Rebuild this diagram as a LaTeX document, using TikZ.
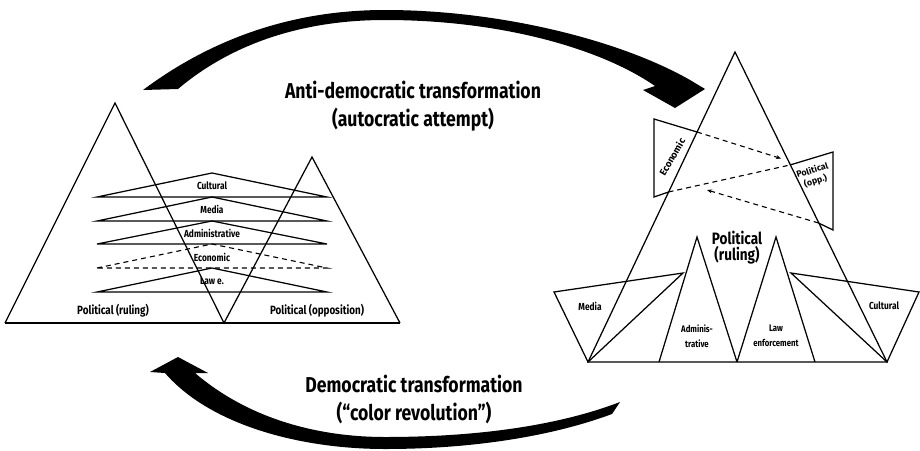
\documentclass[tikz,border=0pt]{standalone}
\usepackage{fontspec}
\setmainfont{Fira Sans}[FakeStretch=0.82]
\newfontfamily\rotf{Fira Sans}
\usetikzlibrary{arrows.meta}
\tikzset{
  ln/.style={line width=1.25pt, line join=miter},
  dsh/.style={line width=1.1pt, dash pattern=on 5pt off 4pt},
  lbl/.style={font=\bfseries\fontsize{10.2}{11}\selectfont, inner sep=0pt, align=center},
  mid/.style={font=\bfseries\fontsize{12}{13}\selectfont, inner sep=0pt, align=center},
  rlb/.style={font=\bfseries\fontsize{9.5}{15}\selectfont, inner sep=0pt, align=center},
  rot/.style={font=\rotf\bfseries\fontsize{8.8}{11}\selectfont, inner sep=0pt, align=center},
  big/.style={font=\bfseries\fontsize{21.5}{28}\selectfont, inner sep=0pt, align=center},
  bigarrow/.style={fill=black, draw=none},
  tipsm/.style={-{Stealth[length=5pt,width=4pt]}}
}
\begin{document}
\begin{tikzpicture}[x=1pt,y=-1pt]
\useasboundingbox (0,0) rectangle (920,450);

% ---------- left diagram ----------
\coordinate (LA) at (5,323);
\coordinate (LT) at (115,103);
\coordinate (LM) at (224,323);
\coordinate (RT) at (312,157);
\coordinate (RB) at (400,323);
\draw[ln] (LA) -- (RB);
\draw[ln] (LA) -- (LT) -- (LM) -- (RT) -- (RB);

% layers
\foreach \n/\a/\b in {cul/173/197, med/197/221, adm/221/244, law/268/292}{
  \draw[ln] (97,\b) coordinate (\n L) -- (212,\a) coordinate (\n T) -- (327,\b) coordinate (\n R) -- cycle;
}
\draw[dsh] (97,268) coordinate (ecoL) -- (212,244) coordinate (ecoT) -- (327,268) coordinate (ecoR) -- cycle;

\node[lbl] (tcul) at (212,186) {Cultural};
\node[lbl] (tmed) at (212,209) {Media};
\node[lbl] (tadm) at (212,233) {Administrative};
\node[lbl] (teco) at (212,257) {Economic};
\node[lbl] (tlaw) at (212,281) {Law e.};
\node[mid] (tpr) at (113,311) {Political (ruling)};
\node[mid] (tpo) at (317,311) {Political (opposition)};

% ---------- right diagram ----------
\coordinate (BA) at (588,362);
\coordinate (BT) at (735,52);
\coordinate (BB) at (887,362);
\draw[ln] (BA) -- (BT) -- (BB) -- cycle;

% media
\draw[ln] (554,292) coordinate (m1) -- (683,273) coordinate (m2) -- (BA) -- cycle;
% administrative
\draw[ln] (659,362) coordinate (a1) -- (697,237) coordinate (a2) -- (737,362) coordinate (a3);
% law enforcement
\draw[ln] (a3) -- (776,237) coordinate (l2) -- (815,362) coordinate (l3);
% cultural
\draw[ln] (791,273) coordinate (c1) -- (919,292) coordinate (c2) -- (BB) -- cycle;

% economic quad
\coordinate (e1) at (654,119);
\coordinate (e2) at (697,132);
\coordinate (e3) at (668.5,192);
\coordinate (e4) at (654,197);
\draw[ln] (e2) -- (e1) -- (e4) -- (e3);
% political opp quad
\coordinate (p1) at (790,165);
\coordinate (p2) at (833,152);
\coordinate (p3) at (833,230);
\coordinate (p4) at (818.5,223);
\draw[ln] (p1) -- (p2) -- (p3) -- (p4);
% dashed
\coordinate (d1) at (781,158.5);
\coordinate (d2) at (707,190);
\draw[dsh, tipsm] (e2) -- (d1);
\draw[dsh] (e3) -- (p1);
\draw[dsh, tipsm] (p4) -- (d2);

\node[rot, rotate=60, font=\rotf\bfseries\fontsize{9.6}{11}\selectfont] (teco2) at (672,157) {Economic};
\node[rot, rotate=17] (tpo2) at (814,176) {Political\\(opp.)};
\node[lbl, font=\bfseries\fontsize{16.5}{16}\selectfont] (tpr2) at (737,248) {Political\\(ruling)};
\node[lbl] (tmed2) at (590,306) {Media};
\node[lbl] (tcul2) at (884,306) {Cultural};
\node[rlb] (tadm2) at (697,336) {Adminis-\\trative};
\node[rlb] (tlaw2) at (776,336) {Law\\enforcement};

% ---------- big arrows ----------
\fill[bigarrow] (143,90) .. controls (210,40) and (290,10) .. (385,10)
  .. controls (500,10) and (620,40) .. (690,80)
  -- (705,89) -- (675,108) -- (643,90) -- (655,86)
  .. controls (600,48) and (500,20) .. (385,20)
  .. controls (300,20) and (230,45) .. (178,89) -- cycle;
\node[big] (ttop) at (413,106) {Anti-democratic transformation\\(autocratic attempt)};

\fill[bigarrow] (178,357) -- (208,373) -- (195,373)
  .. controls (250,420) and (320,437) .. (385,437)
  .. controls (480,437) and (560,425) .. (620,402)
  -- (612,414)
  .. controls (550,437) and (470,449) .. (385,449)
  .. controls (300,449) and (210,425) .. (165,373)
  -- (150,372) -- cycle;
\node[big] (tbot) at (414,399) {Democratic transformation\\(“color revolution”)};
\end{tikzpicture}
\end{document}
